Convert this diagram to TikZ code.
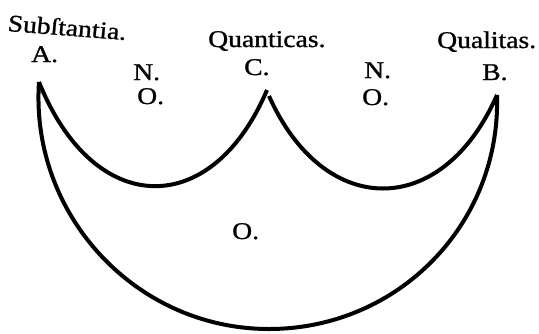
\documentclass[tikz,border=0pt]{standalone}
\usepackage{fontspec}
\setmainfont{Liberation Serif}[FakeBold=1]
\begin{document}
\begin{tikzpicture}[x=1pt,y=-1pt,
  lbl/.style={inner sep=0pt, anchor=base west, xscale=1.15, font=\fontsize{24}{26}\selectfont},
  curve/.style={line width=4pt}]
\useasboundingbox (0,0) rectangle (539,333);
% labels
\node[lbl, rotate=-5] (subst) at (7,31) {Subſtantia.};
\node[lbl] (A) at (31,62) {A.};
\node[lbl] (N1) at (133,80) {N.};
\node[lbl] (O1) at (137,104) {O.};
\node[lbl] (quant) at (208,47) {Quanticas.};
\node[lbl] (C) at (244,75) {C.};
\node[lbl] (N2) at (364,78) {N.};
\node[lbl] (O2) at (362,105) {O.};
\node[lbl] (qual) at (437,48) {Qualitas.};
\node[lbl] (B) at (482,80) {B.};
\node[lbl] (O3) at (232,239) {O.};
% tips of the arcs
\coordinate (tA) at (39,82);
\coordinate (tC) at (267,90);
\coordinate (tC2) at (269,96);
\coordinate (tB) at (497,95);
\coordinate (bot) at (269,329);
% inner arcs
\draw[curve] (tA) .. controls (94,219) and (212,220) .. (tC);
\draw[curve] (tC2) .. controls (324,219) and (442,220) .. (tB);
% outer arc
\draw[curve] (tA) .. controls (30,215) and (136,329) .. (bot)
             .. controls (398,329) and (501,224) .. (tB);
\end{tikzpicture}
\end{document}
